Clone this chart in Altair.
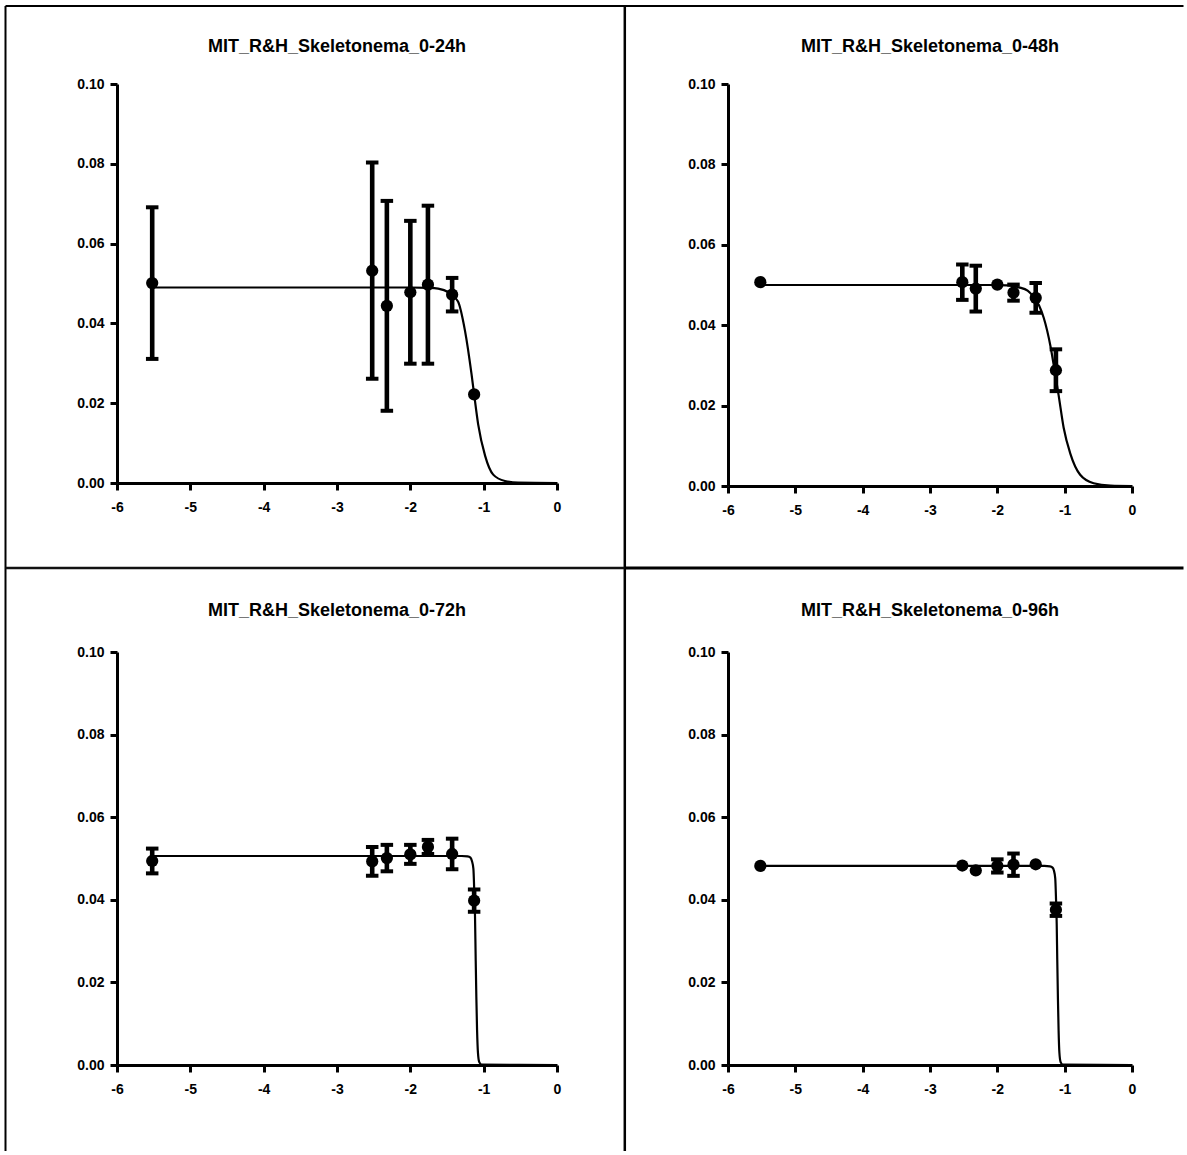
import altair as alt
import pandas as pd

# log10 concentration of each treatment (shared by all four exposures)
log_conc = [-5.52, -2.52, -2.32, -2.00, -1.76, -1.43, -1.13]

titles = [
    "MIT_R&H_Skeletonema_0-24h",
    "MIT_R&H_Skeletonema_0-48h",
    "MIT_R&H_Skeletonema_0-72h",
    "MIT_R&H_Skeletonema_0-96h",
]

# growth rate means and SD per treatment
mean_24h = [0.0501, 0.0532, 0.0444, 0.0478, 0.0497, 0.0472, 0.0222]
sd_24h = [0.0190, 0.0271, 0.0263, 0.0179, 0.0198, 0.0042, 0.0]

mean_48h = [0.0507, 0.0507, 0.0491, 0.0501, 0.0481, 0.0468, 0.0288]
sd_48h = [0.0, 0.0044, 0.0057, 0.0, 0.0020, 0.0037, 0.0052]

mean_72h = [0.0494, 0.0493, 0.0501, 0.0510, 0.0528, 0.0511, 0.0398]
sd_72h = [0.0030, 0.0035, 0.0032, 0.0023, 0.0017, 0.0037, 0.0027]

mean_96h = [0.0482, 0.0483, 0.0471, 0.0482, 0.0485, 0.0486, 0.0376]
sd_96h = [0.0, 0.0, 0.0, 0.0016, 0.0027, 0.0, 0.0015]

# fitted dose-response curves
fit_x_24h = [-5.52, -2.0, -1.75, -1.62, -1.48, -1.35, -1.255, -1.165, -1.13,
             -1.075, -0.98, -0.87, -0.71, -0.53, 0.0]
fit_y_24h = [0.0490, 0.0490, 0.0489, 0.0487, 0.0478, 0.0455, 0.0382, 0.0272, 0.0222,
             0.0147, 0.0068, 0.0021, 0.0005, 0.0001, 0.0]

fit_x_48h = [-5.52, -2.1, -1.85, -1.68, -1.55, -1.46, -1.38, -1.31, -1.21, -1.15,
             -1.09, -1.015, -0.915, -0.77, -0.57, -0.32, 0.0]
fit_y_48h = [0.0500, 0.0500, 0.0499, 0.0494, 0.0486, 0.0470, 0.0449, 0.0418, 0.0347,
             0.0288, 0.0226, 0.0145, 0.0080, 0.0028, 0.0007, 0.0001, 0.0]

fit_x_72h = [-5.52, -1.30, -1.22, -1.18, -1.16, -1.14, -1.128, -1.118, -1.11,
             -1.10, -1.09, -1.078, -1.06, -1.03, 0.0]
fit_y_72h = [0.0506, 0.0506, 0.0505, 0.0502, 0.0494, 0.0475, 0.0420, 0.0360, 0.0270,
             0.0165, 0.0085, 0.0030, 0.0007, 0.0001, 0.0]

fit_x_96h = [-5.52, -1.30, -1.22, -1.18, -1.16, -1.14, -1.128, -1.118, -1.11,
             -1.10, -1.09, -1.078, -1.06, -1.03, 0.0]
fit_y_96h = [0.0482, 0.0482, 0.0481, 0.0478, 0.0471, 0.0452, 0.0400, 0.0340, 0.0255,
             0.0160, 0.0083, 0.0029, 0.0007, 0.0001, 0.0]

x_ticks = [-6, -5, -4, -3, -2, -1, 0]
y_ticks = [0.0, 0.02, 0.04, 0.06, 0.08, 0.10]

FONT = "Liberation Sans"


def panel(title, mean, sd, fit_x, fit_y, width, height, title_y, frame=False):
    pts = pd.DataFrame({"x": log_conc, "y": mean, "sd": sd})
    pts["lo"] = pts["y"] - pts["sd"]
    pts["hi"] = pts["y"] + pts["sd"]
    bars = pts[pts["sd"] > 0]
    fit = pd.DataFrame({"x": fit_x, "y": fit_y})

    xs = alt.Scale(domain=[-6, 0], nice=False, zero=False)
    ys = alt.Scale(domain=[0, 0.1], nice=False)
    x_axis = alt.Axis(values=x_ticks, labelExpr="toString(datum.value)", title=None,
                      labelPadding=10)
    y_axis = alt.Axis(values=y_ticks, format=".2f", title=None, labelPadding=6)

    X = alt.X("x:Q", scale=xs, axis=x_axis)

    curve = alt.Chart(fit).mark_line(
        color="black", strokeWidth=2.2, interpolate="monotone"
    ).encode(x=X, y=alt.Y("y:Q", scale=ys, axis=y_axis))

    whisker = alt.Chart(bars).mark_rule(color="black", strokeWidth=4.6).encode(
        x=X, y=alt.Y("lo:Q", scale=ys, axis=y_axis), y2="hi:Q"
    )
    cap_lo = alt.Chart(bars).mark_tick(
        color="black", orient="horizontal", size=12.5, thickness=4, opacity=1
    ).encode(x=X, y=alt.Y("lo:Q", scale=ys, axis=y_axis))
    cap_hi = alt.Chart(bars).mark_tick(
        color="black", orient="horizontal", size=12.5, thickness=4, opacity=1
    ).encode(x=X, y=alt.Y("hi:Q", scale=ys, axis=y_axis))

    dots = alt.Chart(pts).mark_circle(color="black", size=150, opacity=1).encode(
        x=X, y=alt.Y("y:Q", scale=ys, axis=y_axis)
    )

    heading = alt.Chart(pd.DataFrame({"t": [title]})).mark_text(
        font=FONT, fontSize=18, fontWeight="bold", color="black",
        align="center", baseline="middle"
    ).encode(text="t:N", x=alt.value(width / 2), y=alt.value(title_y))

    layers = [curve, whisker, cap_lo, cap_hi, dots, heading]

    if frame:
        # page frame and the cross dividing the four panels
        one = pd.DataFrame({"k": [0]})
        edge = dict(color="black", strokeWidth=2)
        left, top, right, bottom = -111.5, -78, 1066.5, 1067
        layers += [
            alt.Chart(one).mark_rule(**edge).encode(
                x=alt.value(left), y=alt.value(top), y2=alt.value(bottom)),
            alt.Chart(one).mark_rule(**edge).encode(
                x=alt.value(left), x2=alt.value(right), y=alt.value(top)),
            alt.Chart(one).mark_rule(color="black", strokeWidth=2.5).encode(
                x=alt.value(507.8), y=alt.value(top), y2=alt.value(bottom)),
            alt.Chart(one).mark_rule(color="#111111", strokeWidth=2.6).encode(
                x=alt.value(left), x2=alt.value(507.8), y=alt.value(484)),
            alt.Chart(one).mark_rule(color="black", strokeWidth=3).encode(
                x=alt.value(507.8), x2=alt.value(right), y=alt.value(484)),
        ]

    return alt.layer(*layers).properties(width=width, height=height)


p1 = panel(titles[0], mean_24h, sd_24h, fit_x_24h, fit_y_24h, 440, 399, -37, frame=True)
p2 = panel(titles[1], mean_48h, sd_48h, fit_x_48h, fit_y_48h, 404, 402, -37)
p3 = panel(titles[2], mean_72h, sd_72h, fit_x_72h, fit_y_72h, 440, 413, -41)
p4 = panel(titles[3], mean_96h, sd_96h, fit_x_96h, fit_y_96h, 404, 413, -41)

chart = alt.concat(
    p1, p2, p3, p4,
    columns=2,
    spacing={"row": 166, "column": 171},
    bounds="flush",
    align="each",
).properties(
    padding={"left": 4, "top": 4, "right": 0, "bottom": 0},
    background="white",
).configure_view(
    strokeWidth=0
).configure_axis(
    domainColor="black",
    domainWidth=3,
    tickColor="black",
    tickWidth=3,
    tickSize=7,
    grid=False,
    labelFont=FONT,
    labelFontSize=14,
    labelFontWeight="bold",
    labelColor="black",
    labelFlush=False,
    labelOverlap=False,
)

chart.save("out.html", embed_options={"renderer": "svg", "actions": False})
